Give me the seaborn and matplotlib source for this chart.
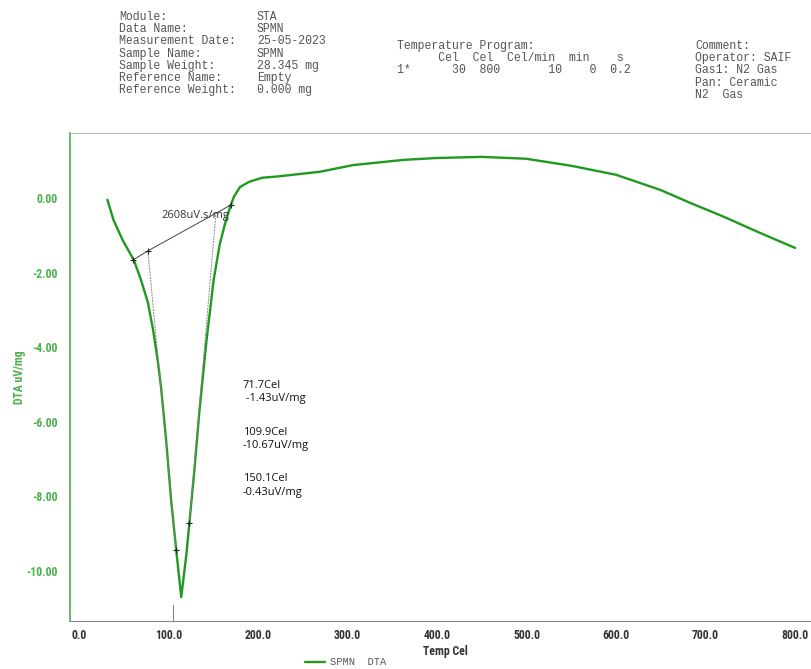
import matplotlib
matplotlib.use("Agg")
import matplotlib.pyplot as plt
import seaborn as sns
import pandas as pd

# DTA curve (Temp Cel, uV/mg)
temp = [31.6, 38.4, 48.6, 61.0, 68.9, 76.8, 82.5, 88.1, 91.5, 97.2, 102.8, 108.5, 114.1,
        119.8, 123.2, 128.8, 134.5, 142.4, 150.3, 157.0, 162.7, 168.4, 172.9,
        179.7, 189.8, 204.5, 223.7, 268.9, 306.2, 362.7, 400.0, 449.7, 499.4,
        550.3, 600.0, 650.0, 682.5, 720.9, 758.2, 800.0]
dta = [-0.05, -0.59, -1.13, -1.66, -2.18, -2.80, -3.52, -4.40, -5.07, -6.49, -8.10, -9.44, -10.70,
       -9.57, -8.71, -7.29, -5.68, -3.81, -2.20, -1.26, -0.72, -0.27, 0.03,
       0.29, 0.43, 0.54, 0.58, 0.70, 0.88, 1.02, 1.07, 1.10, 1.05,
       0.86, 0.62, 0.21, -0.13, -0.51, -0.91, -1.34]

# peak evaluation construction (baseline + tangents)
base_x = [60.5, 76.8, 169.5]
base_y = [-1.66, -1.42, -0.19]
tan1_x = [76.8, 108.5]
tan1_y = [-1.42, -9.44]
tan2_x = [153.0, 123.2]
tan2_y = [-0.38, -8.71]
below_x = [105.0, 105.0]
below_y = [-10.9, -11.3]
mark_x = [60.5, 76.8, 169.5, 108.5, 123.2]
mark_y = [-1.66, -1.42, -0.19, -9.44, -8.71]

x_ticks = [0, 100, 200, 300, 400, 500, 600, 700, 800]
y_ticks = [0, -2, -4, -6, -8, -10]

header_left = ["Module:", "Data Name:", "Measurement Date:", "Sample Name:",
               "Sample Weight:", "Reference Name:", "Reference Weight:"]
header_vals = ["STA", "SPMN", "25-05-2023", "SPMN", "28.345 mg", "Empty", "0.000 mg"]
program = ["Temperature Program:", "      Cel  Cel  Cel/min  min    s",
           "1*      30  800       10    0  0.2"]
comment = ["Comment:", "Operator: SAIF", "Gas1: N2 Gas", "Pan: Ceramic", "N2  Gas"]
peak_text = ["71.7Cel\n -1.43uV/mg", "109.9Cel\n-10.67uV/mg", "150.1Cel\n-0.43uV/mg"]

sns.set_style("white")
plt.rcParams['font.family'] = ['Open Sans', 'DejaVu Sans']
narrow = ['Liberation Sans Narrow', 'Roboto Condensed', 'Roboto']

green = "#1f9a1f"
light_green = "#4cb04c"

fig = plt.figure(figsize=(8.12, 6.69), dpi=100)
ax = fig.add_axes([70 / 812, 1 - 621 / 669, 1 - 70 / 812 + 0.01, (621 - 133) / 669])

df = pd.DataFrame({"Temp": temp, "DTA": dta})
sns.lineplot(data=df, x="Temp", y="DTA", color=green, linewidth=1.7, ax=ax, sort=False)

ax.plot(base_x, base_y, color="#444444", linewidth=0.7)
ax.plot(tan1_x, tan1_y, color="#888888", linewidth=0.7, linestyle=(0, (2, 1)))
ax.plot(tan2_x, tan2_y, color="#888888", linewidth=0.7, linestyle=(0, (2, 1)))
ax.plot(below_x, below_y, color="#888888", linewidth=0.8)
ax.plot(mark_x, mark_y, linestyle="none", marker="+", color="#222222", markersize=4, mew=0.8)

ax.set_xlim(-10.2, 828)
ax.set_ylim(-11.34, 1.74)
ax.set_xticks(x_ticks)
ax.set_xticklabels([f"{v:.1f}" for v in x_ticks])
ax.set_yticks(y_ticks)
ax.set_yticklabels([f"{v:.2f}" for v in y_ticks])

ax.tick_params(axis="x", direction="in", length=7, width=0.8, color="#888888",
               labelsize=8.5, labelcolor="#333333", pad=6)
ax.tick_params(axis="y", direction="in", length=7, width=0.8, color=light_green,
               labelsize=8.5, labelcolor=light_green, pad=9)
for lab in ax.get_xticklabels() + ax.get_yticklabels():
    lab.set_fontweight("bold")
    lab.set_family(narrow)

ax.set_xlabel("Temp Cel", fontsize=8.5, color="#333333", fontweight="bold", family=narrow, labelpad=2)
ax.set_ylabel("DTA uV/mg", fontsize=8.5, color=light_green, fontweight="bold", family=narrow)
ax.yaxis.set_label_coords(-0.058, 0.5)

ax.spines["left"].set_color(light_green)
ax.spines["left"].set_linewidth(1.2)
ax.spines["top"].set_color("#bbbbbb")
ax.spines["bottom"].set_color("#888888")
ax.spines["right"].set_visible(False)

ax.text(92, -0.55, "2608uV.s/mg", fontsize=8, color="#333333")
for i, t in enumerate(peak_text):
    ax.text(183, -4.88 - i * 1.25, t, fontsize=8, color="#111111", va="top", linespacing=1.3)

mono = dict(family="Liberation Mono", fontsize=8.3, color="#555555", va="top")
for i, (a, b) in enumerate(zip(header_left, header_vals)):
    fig.text(119 / 812, 1 - (11 + i * 12.2) / 669, a, **mono)
    fig.text(257 / 812, 1 - (11 + i * 12.2) / 669, b, **mono)
for i, t in enumerate(program):
    fig.text(397 / 812, 1 - (40 + i * 12.2) / 669, t, **mono)
for i, t in enumerate(comment):
    fig.text(695 / 812, 1 - (40 + i * 12.2) / 669, t, **mono)

fig.lines.append(plt.Line2D([305 / 812, 325 / 812], [1 - 662 / 669] * 2, color=green,
                            linewidth=1.7, transform=fig.transFigure))
fig.text(330 / 812, 1 - 662 / 669, "SPMN  DTA", family="Liberation Mono", fontsize=7.5,
         color="#555555", va="center")

fig.savefig("out.png", dpi=100)
